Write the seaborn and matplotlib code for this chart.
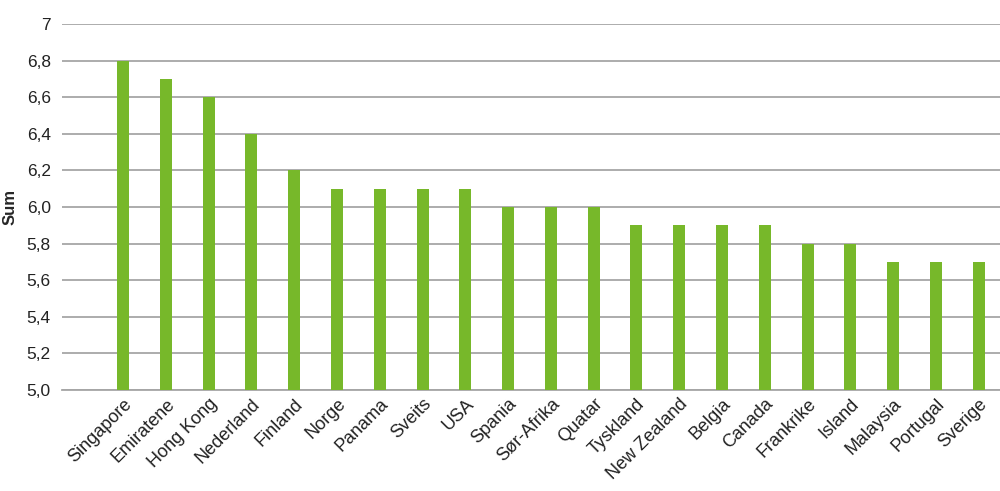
import pandas as pd
import matplotlib.pyplot as plt
import seaborn as sns

# Values
countries = ['Singapore', 'Emiratene', 'Hong Kong', 'Nederland', 'Finland', 'Norge',
             'Panama', 'Sveits', 'USA', 'Spania', 'Sør-Afrika', 'Quatar', 'Tyskland',
             'New Zealand', 'Belgia', 'Canada', 'Frankrike', 'Island', 'Malaysia',
             'Portugal', 'Sverige']
scores = [6.8, 6.7, 6.6, 6.4, 6.2, 6.1, 6.1, 6.1, 6.1, 6.0, 6.0, 6.0, 5.9,
          5.9, 5.9, 5.9, 5.8, 5.8, 5.7, 5.7, 5.7]
yticks = [5.0, 5.2, 5.4, 5.6, 5.8, 6.0, 6.2, 6.4, 6.6, 6.8, 7.0]
ytick_labels = ['5,0', '5,2', '5,4', '5,6', '5,8', '6,0', '6,2', '6,4', '6,6', '6,8', '7']

df = pd.DataFrame({'Land': countries, 'Sum': scores})

sns.set_style('white')
plt.rcParams['font.family'] = ['Liberation Sans', 'DejaVu Sans']

fig = plt.figure(figsize=(10, 4.91), dpi=100)
ax = fig.add_axes([0.062, 0.2057, 0.938, 0.7454])

# Bars start from the axis floor (5.0), like the original
sns.barplot(data=df, x='Land', y='Sum', color='#77b82a', width=0.28,
            saturation=1, ax=ax, zorder=3)
for p in ax.patches:
    p.set_edgecolor('none')

ax.set_ylim(5.0, 7.0)
ax.set_xlim(-1.43, 20.5)
ax.set_yticks(yticks)
ax.set_yticklabels(ytick_labels, fontsize=12.5, color='#222222')
ax.set_xticks(range(len(countries)))
ax.set_xticklabels(countries, rotation=45, ha='right', rotation_mode='anchor',
                   fontsize=13, color='#222222')
ax.tick_params(axis='x', length=0, pad=4)
ax.tick_params(axis='y', length=0, pad=8)

ax.grid(axis='y', color='#a6a6a6', linewidth=1.3, zorder=0)
ax.grid(axis='x', visible=False)
for side in ['top', 'left', 'right']:
    ax.spines[side].set_visible(False)
ax.spines['bottom'].set_color('#a6a6a6')
ax.spines['bottom'].set_linewidth(1.3)

ax.set_xlabel('')
ax.set_ylabel('Sum', fontsize=12, fontweight='bold')
ax.yaxis.set_label_coords(-0.047, 0.5)

fig.savefig('out.png', dpi=100)
